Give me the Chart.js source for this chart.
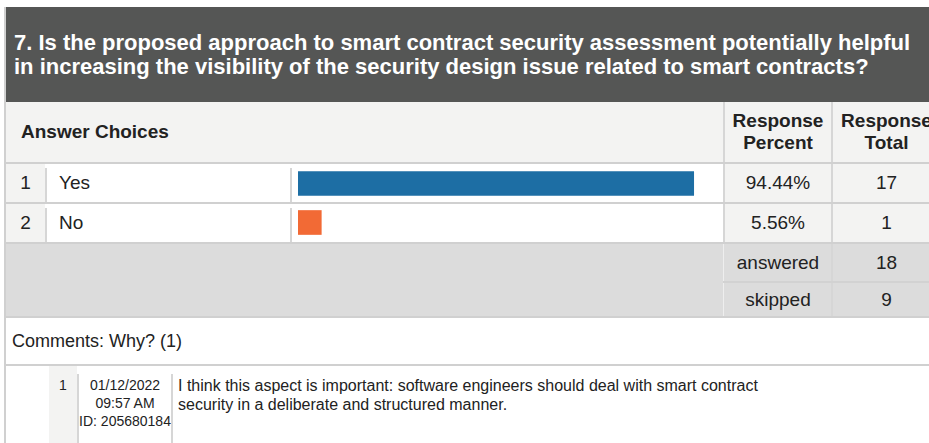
<!DOCTYPE html>
<html>
<head>
<meta charset="utf-8">
<title>Question 7</title>
<script src="https://cdn.jsdelivr.net/npm/chart.js@4/dist/chart.umd.min.js"></script>
<style>
  body {
    margin: 0;
    width: 929px;
    height: 443px;
    overflow: hidden;
    background: #fff;
    font-family: "Liberation Sans", Arial, sans-serif;
    color: #222;
  }
  .blk { position: absolute; box-sizing: border-box; }
  .line { background: #d0d0d0; }
  .vsep { background: #d6d6d6; }
  .cell { display: flex; align-items: center; font-size: 19px; white-space: nowrap; }
  .center { justify-content: center; text-align: center; }
  .title {
    color: #fff;
    font-weight: bold;
    font-size: 22px;
    line-height: 24px;
    padding: 24px 0 0 10px;
    background: #555655;
    white-space: nowrap;
  }
  .head { font-weight: bold; line-height: 22px; }
  .light { background: #f3f3f2; }
  .summary { background: #dcdcdc; }
  .date { font-size: 14px; line-height: 18px; text-align: center; white-space: nowrap; }
  .comment { font-size: 16px; line-height: 19px; white-space: nowrap; }
</style>
</head>
<body>
<div id="survey"></div>
<script>
    // Question data
    const questionTitle = '7. Is the proposed approach to smart contract security assessment potentially helpful<br>in increasing the visibility of the security design issue related to smart contracts?';
    const choices = ['Yes', 'No'];
    const percents = [94.44, 5.56];
    const totals = [17, 1];
    const barColors = ['#1d6ea4', '#f26a35'];
    const summaryLabels = ['answered', 'skipped'];
    const summaryValues = [18, 9];
    const commentHeading = 'Comments: Why? (1)';
    const commentDate = ['01/12/2022', '09:57 AM', 'ID: 205680184'];
    const commentText = 'I think this aspect is important: software engineers should deal with smart contract<br>security in a deliberate and structured manner.';

    const survey = document.getElementById('survey');

    function box(cls, x, y, w, h, html) {
        const el = document.createElement('div');
        el.className = 'blk ' + cls;
        el.style.left = x + 'px';
        el.style.top = y + 'px';
        el.style.width = w + 'px';
        el.style.height = h + 'px';
        if (html !== undefined) el.innerHTML = html;
        survey.appendChild(el);
        return el;
    }

    // Column edges
    const colNum = 6, colLabel = 47, colBar = 292, colPct = 725, colTot = 833, colEnd = 940;

    // Title bar
    box('title', 4, 7, 940, 95, questionTitle);

    // Header row
    box('light', colNum, 102, colEnd - colNum, 60);
    box('cell head', 21, 102, 300, 60, 'Answer Choices');
    box('cell head center', colPct, 102, colTot - colPct - 2, 60, 'Response<br>Percent');
    box('cell head center', colTot, 102, colEnd - colTot, 60, 'Response<br>Total');
    box('vsep', colPct - 2, 102, 2, 60);
    box('vsep', colTot - 2, 102, 2, 60);
    box('line', 4, 162, 940, 2);

    // Answer rows
    choices.forEach((choice, i) => {
        const top = 164 + i * 40;
        box('cell center light', colNum, top, colLabel - colNum - 2, 38, String(i + 1));
        box('vsep', colLabel - 2, top + 4, 2, 34);
        box('cell', colLabel + 12, top, colBar - colLabel - 14, 38, choice);
        box('vsep', colBar - 2, top + 4, 2, 34);
        box('vsep', colPct - 2, top, 2, 38);
        box('cell center light', colPct, top, colTot - colPct - 2, 38, percents[i].toFixed(2) + '%');
        box('vsep', colTot - 2, top, 2, 38);
        box('cell center light', colTot, top, colEnd - colTot, 38, String(totals[i]));
        box('line', 4, top + 38, 940, 2);
    });

    // Answered / skipped
    box('summary', colNum, 244, colEnd - colNum, 72);
    summaryLabels.forEach((label, i) => {
        const top = i === 0 ? 244 : 283;
        const h = i === 0 ? 37 : 33;
        box('cell center', colPct, top, colTot - colPct - 2, h, label);
        box('cell center', colTot, top, colEnd - colTot, h, String(summaryValues[i]));
    });
    box('vsep', colPct - 2, 244, 1, 72).style.background = '#eeeeee';
    box('vsep', colTot - 2, 244, 2, 72);
    box('line', colPct - 2, 281, colEnd - colPct, 2).style.background = '#d2d2d2';
    box('line', 4, 316, 940, 2);

    // Comments
    box('cell', 12, 318, 400, 46, commentHeading).style.fontSize = '18px';
    box('line', 4, 364, 940, 2);
    box('light', 49, 366, 28, 77);
    box('date', 49, 376, 28, 20, '1');
    box('vsep', 77, 374, 2, 69);
    box('date', 79, 376, 92, 60, commentDate.join('<br>'));
    box('vsep', 171, 374, 2, 69);
    box('comment', 178, 376, 720, 40, commentText);

    // Outer left border
    box('line', 4, 7, 2, 436);

    // Percentage bars
    const barHolder = box('', colBar, 164, colPct - 2 - colBar, 78);
    const canvas = document.createElement('canvas');
    canvas.width = colPct - 2 - colBar;
    canvas.height = 78;
    barHolder.appendChild(canvas);

    new Chart(canvas, {
        type: 'bar',
        data: {
            labels: choices,
            datasets: [{
                data: percents,
                backgroundColor: barColors,
                barThickness: 24,
                borderWidth: 0
            }]
        },
        options: {
            indexAxis: 'y',
            responsive: false,
            animation: false,
            layout: { padding: { left: 6, right: 6, top: 0, bottom: 0 } },
            plugins: {
                legend: { display: false },
                tooltip: { enabled: false }
            },
            scales: {
                x: { display: false, min: 0, max: 100 },
                y: { display: false }
            }
        }
    });
</script>
</body>
</html>
